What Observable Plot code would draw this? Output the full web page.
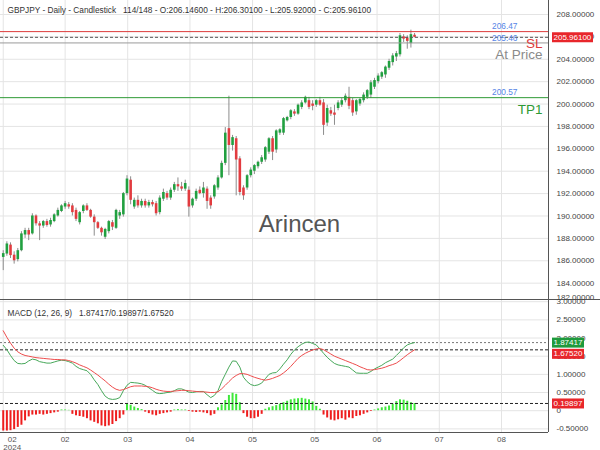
<!DOCTYPE html>
<html><head><meta charset="utf-8">
<script src="https://cdn.jsdelivr.net/npm/d3@7"></script>
<script src="https://cdn.jsdelivr.net/npm/@observablehq/plot@0.6"></script>
<style>
body{margin:0;background:#fff;}
#chart{width:600px;height:450px;overflow:hidden;}
#chart svg{display:block;}
</style></head><body><div id="chart"></div>
<script>
// ---- data ----
const opens = [186.30,186.60,187.40,186.50,186.10,186.90,188.30,188.70,188.40,190.00,
189.30,189.10,189.50,189.20,189.50,190.00,190.40,190.80,191.00,190.90,
190.50,189.40,190.40,190.90,190.50,189.90,189.40,188.90,188.10,188.60,
189.40,188.90,190.00,190.10,192.00,193.20,190.80,191.40,190.90,191.30,
190.90,191.20,191.10,190.30,191.50,192.00,191.60,192.30,192.80,192.60,
192.40,192.30,190.90,191.50,192.30,192.00,192.40,191.60,191.70,192.50,
193.40,194.70,197.80,196.30,196.90,195.10,192.50,192.50,193.60,194.00,
194.40,194.80,195.00,195.70,196.90,195.90,197.40,197.40,198.50,198.80,
199.30,199.10,199.70,200.10,200.30,200.00,199.90,200.30,200.10,198.30,
199.40,199.20,199.60,199.90,200.30,200.60,200.30,199.30,200.00,200.30,
200.60,200.80,201.50,202.00,202.40,202.60,203.20,203.70,204.20,204.40,
206.00,205.90,205.40,206.146];
const highs = [186.90,187.70,187.60,186.80,187.10,188.60,188.90,188.90,190.20,190.10,
189.50,189.60,189.70,189.80,190.20,190.70,191.00,191.30,191.20,191.10,
190.70,190.40,191.00,191.10,190.60,190.10,189.50,189.00,188.90,189.60,
189.60,190.60,190.50,192.10,193.60,193.50,191.60,191.80,191.50,191.50,
191.40,191.40,191.30,191.80,192.40,192.20,192.50,193.00,193.40,193.00,
193.20,192.60,191.60,192.40,192.60,193.00,192.60,191.80,192.80,193.60,
194.90,197.90,200.70,197.20,197.10,195.30,192.70,193.70,194.30,194.60,
194.90,195.40,196.20,197.00,197.10,197.70,197.80,198.80,198.90,199.50,
199.50,200.00,200.30,200.70,200.60,200.30,200.40,200.60,200.40,199.90,
199.70,199.90,200.30,200.50,200.90,201.50,200.50,200.40,200.50,201.00,
201.30,202.10,202.30,202.70,202.90,203.40,204.00,204.50,204.70,206.30,
206.20,206.10,206.60,206.301];
const lows = [185.12,186.40,186.20,185.70,185.90,186.80,188.00,187.80,188.30,189.10,
187.80,188.90,189.00,189.00,189.40,189.90,190.30,190.60,190.60,190.00,
189.50,189.20,190.20,190.40,189.80,188.20,188.80,188.20,187.90,188.40,
188.70,188.80,189.70,189.90,191.80,191.00,190.60,190.70,190.70,190.70,
190.70,190.80,190.00,190.10,191.30,191.40,191.40,192.10,192.20,192.20,
192.20,189.90,190.70,191.30,191.90,191.60,190.60,190.60,191.50,192.30,
193.30,194.50,193.60,195.80,191.80,191.80,191.40,192.30,193.40,193.70,
194.20,194.60,194.80,195.50,194.95,195.60,197.20,197.20,198.40,198.60,
198.90,199.00,199.50,200.00,199.50,199.40,199.70,199.80,197.20,198.00,
198.90,198.10,199.40,199.70,200.10,199.50,198.90,199.00,199.80,200.10,
200.40,200.50,201.30,201.80,202.20,202.30,203.00,203.40,203.80,204.20,
205.50,204.90,205.00,205.92];
const closes = [186.64,187.50,186.46,186.00,186.90,188.40,188.70,188.30,190.00,189.30,
189.10,189.50,189.15,189.60,190.10,190.50,190.90,191.10,190.80,190.30,
189.70,190.30,190.90,190.50,189.90,189.40,188.90,188.50,188.80,189.50,
189.00,190.50,190.30,192.00,193.30,191.40,191.40,190.90,191.30,190.90,
191.20,191.00,190.20,191.60,192.10,191.60,192.30,192.80,192.60,192.40,
192.90,190.80,191.50,192.20,192.00,192.50,191.30,190.90,192.70,193.40,
194.70,197.40,196.30,197.00,195.00,192.10,191.80,193.60,194.10,194.50,
194.80,195.20,196.10,196.90,195.70,197.60,197.70,198.70,198.80,199.40,
199.10,199.90,200.10,200.60,199.70,199.80,200.30,199.90,198.10,199.60,
199.10,199.00,200.10,200.30,200.70,199.80,199.20,200.30,200.40,200.80,
201.20,201.90,202.10,202.50,202.80,203.30,203.80,204.30,204.50,206.10,
205.80,205.60,206.20,205.961];

const macdValues = [1.80,1.68,1.52,1.38,1.30,1.29,1.30,1.37,1.42,1.40,
1.35,1.33,1.31,1.31,1.34,1.37,1.39,1.38,1.35,1.31,
1.22,1.16,1.13,1.10,1.00,0.85,0.72,0.55,0.40,0.33,
0.31,0.32,0.36,0.55,0.70,0.78,0.77,0.76,0.74,0.70,
0.63,0.56,0.49,0.47,0.48,0.50,0.51,0.55,0.60,0.60,
0.56,0.51,0.50,0.52,0.53,0.53,0.44,0.36,0.42,0.55,
0.80,1.00,1.20,1.37,1.36,1.20,0.92,0.80,0.72,0.69,
0.71,0.76,0.88,1.00,1.04,1.05,1.15,1.28,1.40,1.55,
1.67,1.76,1.83,1.88,1.89,1.85,1.81,1.70,1.58,1.47,
1.38,1.30,1.26,1.24,1.22,1.20,1.12,1.04,1.03,1.03,
1.03,1.08,1.15,1.20,1.25,1.32,1.37,1.42,1.52,1.62,
1.73,1.81,1.85,1.87417];
const signalValues = [2.20,2.02,1.86,1.72,1.62,1.56,1.52,1.50,1.48,1.46,
1.45,1.44,1.43,1.42,1.41,1.41,1.40,1.40,1.38,1.35,
1.31,1.26,1.22,1.18,1.12,1.05,0.98,0.90,0.82,0.73,
0.65,0.59,0.56,0.58,0.62,0.66,0.68,0.68,0.68,0.67,
0.66,0.63,0.59,0.56,0.54,0.53,0.53,0.54,0.55,0.56,
0.56,0.55,0.54,0.53,0.52,0.52,0.51,0.50,0.50,0.52,
0.60,0.70,0.80,0.90,0.97,1.02,1.02,1.00,0.96,0.92,
0.89,0.86,0.84,0.86,0.89,0.93,0.97,1.04,1.12,1.22,
1.33,1.44,1.52,1.58,1.63,1.67,1.70,1.71,1.68,1.62,
1.56,1.50,1.46,1.42,1.38,1.34,1.30,1.26,1.21,1.17,
1.13,1.12,1.13,1.15,1.17,1.20,1.24,1.27,1.31,1.38,
1.46,1.54,1.61,1.67520];
const histValues = [-0.56,-0.56,-0.55,-0.52,-0.46,-0.40,-0.28,-0.17,-0.12,-0.12,
-0.10,-0.12,-0.10,-0.08,-0.06,-0.04,0.02,0.02,0.01,-0.10,
-0.14,-0.16,-0.18,-0.22,-0.28,-0.32,-0.36,-0.42,-0.44,-0.42,
-0.38,-0.30,-0.22,-0.12,0.17,0.15,0.10,0.06,0.03,-0.04,
-0.08,-0.12,-0.14,-0.10,-0.08,-0.06,-0.04,0.02,0.03,0.02,
0.02,-0.02,-0.04,-0.05,-0.04,-0.06,-0.08,-0.14,-0.10,0.08,
0.16,0.28,0.42,0.48,0.45,0.22,-0.08,-0.18,-0.22,-0.22,
-0.18,-0.10,0.04,0.08,0.11,0.14,0.18,0.22,0.26,0.30,
0.32,0.33,0.34,0.32,0.30,0.24,0.12,0.04,-0.12,-0.20,
-0.26,-0.28,-0.25,-0.22,-0.26,-0.20,-0.22,-0.16,-0.14,-0.10,
-0.06,-0.02,0.02,0.05,0.08,0.10,0.13,0.18,0.25,0.30,
0.29,0.26,0.22,0.19897];

const priceTicks = [182,184,186,188,190,192,194,196,198,200,202,204,206,208];
const macdTicks = [-0.5,0,0.5,1,1.5,2,2.5,3];
const dateTickPos = [0,17,34.2,51.3,68.5,85.6,102.7,119.8,136.9];
const dateTickLabels = ["02","02","03","04","05","05","06","07","08"];
const yearLabel = "2024";
const levelNames = ["SL","At Price","TP1"];
const levelValues = [206.47,205.46,200.57];
const symbol = "GBPJPY", period = "Daily", chartType = "Candlestick";
const shownBars = 114, totalBars = 148;
const watermark = "Arincen";

// ---- build ----
const FONT = "'Liberation Sans', Arial, Helvetica, sans-serif";
const GREEN = "#21a040", RED = "#e23b3f";
const levelColors = {"SL":"#dd3b3b","At Price":"#9a9a9a","TP1":"#2e9a35"};
const N = opens.length;
const last = N - 1;
const candles = opens.map((o,i)=>({i,o,h:highs[i],l:lows[i],c:closes[i]}));
const macdRows = macdValues.map((m,i)=>({i,m,s:signalValues[i],h:histValues[i]}));
const levels = levelNames.map((name,i)=>({name,value:levelValues[i]}));
const dateTicks = dateTickPos.map((pos,i)=>({pos,label:dateTickLabels[i]}));
const f5 = d => d.toFixed(5);
const header = `${symbol} - ${period} - ${chartType}   ${shownBars}/${totalBars} - O:${f5(opens[last])} - H:${f5(highs[last])} - L:${f5(lows[last])} - C:${f5(closes[last])}`;
const macdTitle = `MACD (12, 26, 9)   ${f5(macdValues[last])}/${f5(histValues[last])}/${f5(signalValues[last])}`;
const xDomain = [-0.75, 149.8];
const priceDomain = [182.54, 209.25];
const macdDomain = [-0.600, 3.033];
const gridColor = "#e4e4e4";
const axisColor = "#555";

const price = Plot.plot({
  width: 600, height: 300,
  marginLeft: 0, marginRight: 52, marginTop: 0, marginBottom: 1,
  style: {fontFamily: FONT, fontSize: "8px", color: "#444", background: "#fff", overflow: "visible"},
  x: {domain: xDomain, axis: null},
  y: {domain: priceDomain, axis: null},
  marks: [
    Plot.gridY({ticks: priceTicks.slice(1), stroke: gridColor, strokeOpacity: 1}),
    Plot.gridX({ticks: dateTickPos, stroke: gridColor, strokeOpacity: 1}),
    Plot.text([watermark], {frameAnchor: "middle", dx: 25, dy: 74, fontSize: 24, fill: "#555", lineAnchor: "middle"}),
    Plot.ruleX(candles, {x: "i", y1: "l", y2: "h", stroke: "#8c8c8c", strokeWidth: 1}),
    Plot.ruleX(candles, {x: "i", y1: "o", y2: "c", stroke: d => d.c >= d.o ? GREEN : RED, strokeWidth: 2.6}),
    Plot.ruleY(levels, {y: "value", stroke: d => levelColors[d.name], strokeWidth: 1}),
    Plot.ruleY([closes[last]], {y: d => d, stroke: "#555", strokeDasharray: "3,2"}),
    Plot.text(levels, {y: "value", text: d => d.value.toFixed(2), frameAnchor: "right", textAnchor: "end", dx: -31, dy: -5, fill: "#5585e6", fontSize: 8.3}),
    Plot.text(levels, {y: "value", text: "name", frameAnchor: "right", textAnchor: "end", dx: -6, dy: 12, fill: d => levelColors[d.name] === "#9a9a9a" ? "#8a8a8a" : levelColors[d.name], fontSize: 13.5}),
    Plot.text([header], {frameAnchor: "top-left", dx: 7, dy: 10, lineAnchor: "middle", textAnchor: "start", fontSize: 8.3, fill: "#333"}),
    Plot.axisY({ticks: priceTicks.slice(1), anchor: "right", tickSize: 0, tickPadding: 8, tickFormat: f5, label: null, fill: "#444", fontSize: 8}),
    Plot.text([priceTicks[0]], {text: d => f5(d), frameAnchor: "bottom-right", dx: 8, dy: -2, textAnchor: "start", lineAnchor: "middle", fill: "#444", fontSize: 8}),
    Plot.ruleX([xDomain[1]], {x: d => d, stroke: axisColor}),
    Plot.ruleY([priceDomain[0]], {y: d => d, stroke: axisColor, insetRight: -52}),
    Plot.ruleY([closes[last]], {y: d => d, stroke: "#e8262b", strokeWidth: 10, insetLeft: 552, insetRight: -45}),
    Plot.text([closes[last]], {y: d => d, text: d => f5(d), frameAnchor: "right", dx: 5, textAnchor: "start", fill: "#fff", fontSize: 8})
  ]
});

const macd = Plot.plot({
  width: 600, height: 150,
  marginLeft: 0, marginRight: 52, marginTop: 0, marginBottom: 18,
  style: {fontFamily: FONT, fontSize: "8px", color: "#444", background: "transparent", overflow: "visible"},
  x: {domain: xDomain, axis: null},
  y: {domain: macdDomain, axis: null},
  marks: [
    Plot.gridY({ticks: macdTicks, stroke: gridColor, strokeOpacity: 1}),
    Plot.gridX({ticks: dateTickPos, stroke: gridColor, strokeOpacity: 1}),
    Plot.ruleX(macdRows, {x: "i", y1: 0, y2: "h", stroke: d => d.h >= 0 ? "#3ee83a" : "#ee1d1d", strokeWidth: 2}),
    Plot.ruleY([macdValues[last]], {y: d => d, stroke: "#777", strokeDasharray: "2,2"}),
    Plot.ruleY([signalValues[last]], {y: d => d, stroke: "#222", strokeDasharray: "3,2"}),
    Plot.ruleY([histValues[last]], {y: d => d, stroke: "#222", strokeDasharray: "3,2"}),
    Plot.line(macdRows, {x: "i", y: "m", stroke: "#47a85a", strokeWidth: 1}),
    Plot.line(macdRows, {x: "i", y: "s", stroke: "#ee4d4d", strokeWidth: 1}),
    Plot.text([macdTitle], {frameAnchor: "top-left", dx: 7, dy: 13, lineAnchor: "middle", textAnchor: "start", fontSize: 8.3, fill: "#333"}),
    Plot.axisY({ticks: macdTicks, anchor: "right", tickSize: 0, tickPadding: 8, tickFormat: d => d === 0 ? "0" : f5(d), label: null, fill: "#444", fontSize: 8}),
    Plot.ruleY([macdValues[last]], {y: d => d, stroke: "#1e9a3c", strokeWidth: 10, insetLeft: 552, insetRight: -36}),
    Plot.text([macdValues[last]], {y: d => d, text: d => f5(d), frameAnchor: "right", dx: 5, textAnchor: "start", fill: "#fff", fontSize: 8}),
    Plot.ruleY([signalValues[last]], {y: d => d, dy: 4, stroke: "#e8262b", strokeWidth: 10, insetLeft: 552, insetRight: -36}),
    Plot.text([signalValues[last]], {y: d => d, dy: 4, text: d => f5(d), frameAnchor: "right", dx: 5, textAnchor: "start", fill: "#fff", fontSize: 8}),
    Plot.ruleY([histValues[last]], {y: d => d, stroke: "#e8262b", strokeWidth: 10, insetLeft: 552, insetRight: -36}),
    Plot.text([histValues[last]], {y: d => d, text: d => f5(d), frameAnchor: "right", dx: 5, textAnchor: "start", fill: "#fff", fontSize: 8}),
    Plot.ruleX([xDomain[1]], {x: d => d, stroke: axisColor}),
    Plot.ruleY([macdDomain[0]], {y: d => d, stroke: axisColor}),
    Plot.text(dateTicks.slice(1), {x: "pos", text: "label", frameAnchor: "bottom", dy: 7, lineAnchor: "middle", fill: "#555", fontSize: 8}),
    Plot.text(dateTicks.slice(0,1), {x: "pos", text: "label", frameAnchor: "bottom", dx: 9, dy: 7, lineAnchor: "middle", fill: "#555", fontSize: 8}),
    Plot.text(dateTicks.slice(0,1), {x: "pos", text: () => yearLabel, frameAnchor: "bottom", dx: 9, dy: 15, lineAnchor: "middle", fill: "#555", fontSize: 8})
  ]
});

const root = document.getElementById("chart");
root.appendChild(price);
root.appendChild(macd);
</script>
</body></html>
